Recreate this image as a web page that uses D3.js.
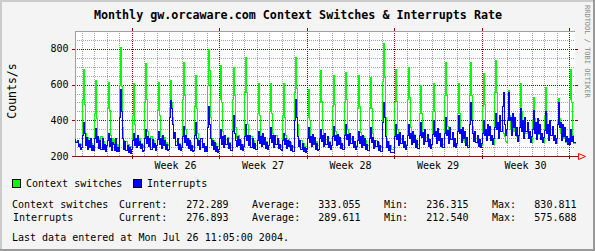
<!DOCTYPE html>
<html>
<head>
<meta charset="utf-8">
<script src="https://cdn.jsdelivr.net/npm/d3@7"></script>
<style>
  body { margin: 0; background: #f4f4f4; }
  text { font-family: "DejaVu Sans Mono", monospace; fill: #000; }
</style>
</head>
<body>
<svg id="chart" width="595" height="251"></svg>
<script>
// Context switches per second, 2 hour steps (Jun 16 12:00 .. Jul 26 10:00)
const contextSwitches = [
  298, 285, 290, 268, 275, 262,                                   // Jun 16 (from 12:00)
  270, 520, 690, 490, 330, 285, 305, 275, 290, 262, 275, 258,     // Jun 17
  262, 440, 625, 410, 300, 272, 295, 310, 268, 285, 256, 262,     // Jun 18
  258, 470, 615, 455, 320, 280, 300, 270, 295, 265, 270, 255,     // Jun 19
  265, 600, 812, 590, 360, 290, 270, 285, 258, 270, 250, 255,     // Jun 20
  255, 430, 607, 380, 300, 275, 305, 285, 300, 265, 275, 258,     // Jun 21
  260, 500, 720, 520, 340, 290, 275, 310, 280, 290, 262, 260,     // Jun 22
  262, 460, 615, 430, 310, 285, 310, 290, 305, 270, 280, 262,     // Jun 23
  265, 470, 625, 500, 420, 330, 300, 285, 295, 265, 272, 258,     // Jun 24
  260, 520, 728, 540, 350, 295, 280, 295, 268, 280, 258, 256,     // Jun 25
  258, 480, 655, 470, 330, 290, 275, 285, 262, 272, 252, 255,     // Jun 26
  255, 600, 797, 680, 420, 300, 280, 290, 265, 275, 255, 258,     // Jun 27
  258, 520, 710, 500, 340, 295, 310, 295, 305, 270, 280, 260,     // Jun 28
  262, 520, 700, 540, 360, 300, 290, 315, 285, 292, 265, 262,     // Jun 29
  265, 560, 756, 560, 380, 305, 290, 310, 282, 290, 265, 262,     // Jun 30
  262, 440, 607, 430, 320, 290, 310, 295, 305, 272, 282, 262,     // Jul 01
  260, 450, 607, 440, 330, 295, 300, 315, 285, 290, 262, 260,     // Jul 02
  258, 430, 607, 420, 315, 285, 275, 295, 270, 280, 256, 255,     // Jul 03
  256, 560, 756, 580, 380, 300, 280, 290, 265, 275, 252, 256,     // Jul 04
  255, 420, 573, 400, 310, 285, 305, 290, 300, 270, 282, 262,     // Jul 05
  262, 500, 680, 510, 350, 300, 315, 295, 305, 275, 285, 264,     // Jul 06
  264, 480, 655, 490, 340, 300, 290, 312, 285, 290, 265, 262,     // Jul 07
  262, 500, 672, 520, 350, 300, 310, 295, 305, 275, 285, 264,     // Jul 08
  262, 470, 655, 480, 335, 295, 292, 310, 285, 288, 262, 260,     // Jul 09
  260, 470, 645, 470, 330, 290, 275, 292, 270, 278, 254, 254,     // Jul 10
  255, 620, 831, 640, 420, 300, 275, 285, 258, 262, 240, 238,     // Jul 11
  240, 500, 690, 510, 350, 300, 315, 295, 310, 275, 285, 265,     // Jul 12
  265, 520, 700, 530, 360, 305, 300, 325, 290, 298, 270, 268,     // Jul 13
  268, 440, 598, 440, 330, 300, 320, 305, 315, 280, 290, 268,     // Jul 14
  266, 450, 607, 450, 335, 305, 300, 325, 295, 300, 270, 270,     // Jul 15
  270, 540, 725, 540, 370, 310, 315, 300, 310, 280, 290, 268,     // Jul 16
  266, 440, 607, 440, 330, 300, 290, 310, 280, 290, 260, 260,     // Jul 17
  262, 540, 725, 540, 370, 310, 290, 300, 275, 285, 258, 258,     // Jul 18
  260, 480, 663, 490, 350, 315, 330, 315, 335, 290, 300, 270,     // Jul 19
  270, 560, 738, 560, 380, 330, 350, 340, 370, 330, 310, 285,     // Jul 20
  280, 420, 570, 430, 350, 330, 360, 340, 375, 315, 310, 285,     // Jul 21
  282, 440, 607, 450, 350, 320, 355, 330, 365, 300, 305, 280,     // Jul 22
  280, 400, 532, 410, 340, 320, 345, 325, 355, 300, 300, 280,     // Jul 23
  278, 430, 588, 440, 345, 320, 340, 320, 350, 295, 295, 275,     // Jul 24
  272, 400, 523, 410, 330, 300, 320, 300, 330, 280, 285, 265,     // Jul 25
  268, 520, 685, 500, 320, 272                                    // Jul 26 (to 10:00)
];

// Interrupts per second, same steps
const interrupts = [
  300, 280, 292, 255, 270, 240,
  250, 320, 390, 330, 260, 305, 240, 290, 248, 300, 232, 262,
  235, 300, 357, 280, 310, 245, 290, 238, 300, 240, 270, 228,
  262, 290, 330, 255, 300, 236, 280, 270, 235, 300, 228, 250,
  228, 420, 578, 450, 300, 240, 285, 235, 260, 222, 250, 215,
  240, 290, 330, 260, 300, 250, 320, 262, 285, 245, 270, 230,
  232, 300, 350, 275, 310, 255, 300, 240, 295, 248, 275, 232,
  260, 295, 340, 270, 300, 245, 320, 260, 290, 240, 265, 235,
  238, 420, 515, 470, 380, 300, 335, 260, 300, 240, 270, 232,
  250, 310, 370, 280, 320, 262, 300, 245, 290, 236, 260, 230,
  232, 320, 390, 300, 260, 290, 240, 300, 250, 275, 230, 255,
  228, 360, 480, 380, 300, 260, 290, 240, 280, 230, 255, 222,
  240, 300, 350, 270, 310, 250, 320, 265, 300, 245, 275, 234,
  236, 340, 430, 330, 290, 255, 310, 260, 295, 242, 270, 236,
  255, 310, 380, 290, 320, 262, 315, 250, 300, 245, 275, 238,
  238, 290, 340, 275, 310, 255, 330, 270, 305, 246, 280, 240,
  260, 300, 360, 280, 315, 250, 320, 265, 300, 244, 270, 238,
  236, 290, 330, 265, 300, 245, 290, 255, 285, 232, 260, 228,
  230, 400, 520, 420, 310, 255, 290, 238, 275, 228, 250, 222,
  245, 300, 360, 280, 310, 255, 325, 265, 305, 240, 275, 236,
  238, 300, 350, 285, 320, 258, 330, 270, 310, 248, 280, 240,
  262, 310, 370, 290, 320, 260, 325, 268, 305, 245, 275, 238,
  240, 315, 380, 295, 325, 262, 330, 272, 310, 250, 285, 240,
  258, 290, 340, 275, 310, 250, 315, 262, 300, 242, 270, 236,
  236, 300, 360, 280, 305, 245, 290, 255, 285, 234, 262, 230,
  230, 390, 505, 420, 310, 250, 285, 232, 262, 224, 224, 224,
  224, 310, 380, 295, 325, 262, 335, 275, 315, 250, 285, 242,
  262, 315, 380, 300, 330, 265, 340, 280, 320, 252, 290, 244,
  244, 320, 390, 305, 335, 270, 350, 285, 325, 254, 295, 246,
  270, 325, 400, 310, 340, 272, 355, 290, 330, 256, 300, 248,
  248, 330, 420, 320, 345, 275, 360, 295, 335, 258, 300, 250,
  275, 340, 430, 330, 350, 280, 365, 300, 340, 262, 305, 252,
  252, 380, 500, 400, 330, 285, 340, 280, 320, 258, 295, 250,
  275, 330, 400, 320, 350, 290, 380, 320, 370, 290, 320, 270,
  300, 360, 440, 350, 390, 300, 430, 340, 480, 560, 380, 320,
  350, 400, 560, 400, 420, 320, 440, 360, 420, 320, 360, 285,
  320, 360, 470, 340, 400, 300, 420, 340, 390, 300, 340, 280,
  310, 350, 460, 330, 390, 295, 410, 330, 380, 295, 330, 278,
  305, 345, 450, 330, 380, 290, 400, 320, 370, 290, 320, 275,
  300, 380, 500, 360, 390, 290, 380, 310, 360, 285, 310, 270,
  300, 265, 350, 285, 310, 277
];

const yTicks = [200, 400, 600, 800];
const weekLabels = ["Week 26", "Week 27", "Week 28", "Week 29", "Week 30"];
const seriesNames = ["Context switches", "Interrupts"];
const seriesColors = ["#00ff00", "#0000ff"];
const statLabels = ["Current:", "Average:", "Min:", "Max:"];
const contextStats = [272.289, 333.055, 236.315, 830.811];
const interruptStats = [276.893, 289.611, 212.540, 575.688];

const startTime = new Date(2004, 5, 16, 11, 5);
const endTime = new Date(2004, 6, 26, 11, 5);
const firstBin = new Date(2004, 5, 16, 12, 0);
const step = 2 * 3600 * 1000;

const svg = d3.select("#chart");
const W = 595, H = 251;
const plotLeft = 75, plotRight = 575, plotTop = 31, plotBottom = 156;

// frame
svg.append("rect").attr("width", W).attr("height", H).attr("fill", "#f4f4f4");
svg.append("rect").attr("x", 0).attr("y", 0).attr("width", W).attr("height", 2).attr("fill", "#cccccc");
svg.append("rect").attr("x", 0).attr("y", 0).attr("width", 2).attr("height", H).attr("fill", "#cccccc");
svg.append("rect").attr("x", 0).attr("y", H - 2).attr("width", W).attr("height", 2).attr("fill", "#9a9a9a");
svg.append("rect").attr("x", W - 2).attr("y", 0).attr("width", 2).attr("height", H).attr("fill", "#9a9a9a");

// plot background
svg.append("rect")
  .attr("x", plotLeft).attr("y", plotTop)
  .attr("width", plotRight - plotLeft).attr("height", plotBottom - plotTop)
  .attr("fill", "#ffffff");

const x = d3.scaleTime().domain([startTime, endTime]).range([plotLeft, plotRight]);
const y = d3.scaleLinear().domain([200, 900]).range([plotBottom, plotTop]);
const px = v => Math.round(v) + 0.5;

const grid = svg.append("g").attr("shape-rendering", "crispEdges");

// minor horizontal grid every 50
d3.range(250, 900, 50).filter(v => !yTicks.includes(v)).forEach(v => {
  grid.append("line")
    .attr("x1", plotLeft).attr("x2", plotRight)
    .attr("y1", px(y(v))).attr("y2", px(y(v)))
    .attr("stroke", "#a0a0a0").attr("stroke-dasharray", "1,1");
});

// minor vertical grid at each day
const mondays = d3.timeMonday.range(startTime, endTime);
d3.timeDay.range(startTime, endTime)
  .filter(d => d.getDay() !== 1)
  .forEach(d => {
    grid.append("line")
      .attr("x1", px(x(d))).attr("x2", px(x(d)))
      .attr("y1", plotTop).attr("y2", plotBottom)
      .attr("stroke", "#a0a0a0").attr("stroke-dasharray", "1,1");
  });

// major horizontal grid
yTicks.forEach(v => {
  grid.append("line")
    .attr("x1", plotLeft).attr("x2", plotRight)
    .attr("y1", px(y(v))).attr("y2", px(y(v)))
    .attr("stroke", "#880000").attr("stroke-dasharray", "1,1");
  grid.append("line")
    .attr("x1", plotLeft - 3).attr("x2", plotLeft)
    .attr("y1", px(y(v))).attr("y2", px(y(v)))
    .attr("stroke", "#880000");
  grid.append("line")
    .attr("x1", plotRight).attr("x2", plotRight + 3)
    .attr("y1", px(y(v))).attr("y2", px(y(v)))
    .attr("stroke", "#880000");
});

// major vertical grid at each monday
mondays.forEach(d => {
  grid.append("line")
    .attr("x1", px(x(d))).attr("x2", px(x(d)))
    .attr("y1", plotTop).attr("y2", plotBottom)
    .attr("stroke", "#880000").attr("stroke-dasharray", "1,1");
  grid.append("line")
    .attr("x1", px(x(d))).attr("x2", px(x(d)))
    .attr("y1", plotTop - 3).attr("y2", plotTop)
    .attr("stroke", "#880000");
  grid.append("line")
    .attr("x1", px(x(d))).attr("x2", px(x(d)))
    .attr("y1", plotBottom).attr("y2", plotBottom + 3)
    .attr("stroke", "#880000");
});

// top and left edges
grid.append("line")
  .attr("x1", plotLeft).attr("x2", plotRight)
  .attr("y1", plotTop + 0.5).attr("y2", plotTop + 0.5)
  .attr("stroke", "#a0a0a0");
grid.append("line")
  .attr("x1", plotLeft + 0.5).attr("x2", plotLeft + 0.5)
  .attr("y1", plotTop).attr("y2", plotBottom)
  .attr("stroke", "#a0a0a0");

// data lines
function toPoints(values) {
  const pts = values.map((v, i) => ({ t: new Date(firstBin.getTime() + i * step), v: v }));
  pts.unshift({ t: startTime, v: values[0] });
  pts.push({ t: endTime, v: values[values.length - 1] });
  return pts;
}

const line = d3.line()
  .x(d => Math.round(x(d.t)) + 0.5)
  .y(d => Math.round(y(d.v)) + 0.5)
  .curve(d3.curveStepBefore);

[contextSwitches, interrupts].forEach((values, i) => {
  svg.append("path")
    .datum(toPoints(values))
    .attr("fill", "none")
    .attr("stroke", seriesColors[i])
    .attr("stroke-width", 1)
    .attr("shape-rendering", "crispEdges")
    .attr("d", line);
});

// x axis with arrow
svg.append("line")
  .attr("x1", plotLeft - 3).attr("x2", plotRight + 3)
  .attr("y1", plotBottom + 0.5).attr("y2", plotBottom + 0.5)
  .attr("stroke", "#aa0000").attr("shape-rendering", "crispEdges");
svg.append("path")
  .attr("d", `M${plotRight + 3.5},${plotBottom - 2.5} L${plotRight + 10.5},${plotBottom + 0.5} L${plotRight + 3.5},${plotBottom + 3.5} Z`)
  .attr("fill", "none").attr("stroke", "#ff0000");

// y tick labels
yTicks.forEach(v => {
  svg.append("text")
    .attr("x", 68.5).attr("y", y(v) + 3.5)
    .attr("text-anchor", "end")
    .style("font-size", "10px")
    .text(v);
});

// week labels
mondays.slice(0, weekLabels.length).forEach((d, i) => {
  const mid = (x(d) + x(mondays[i + 1] || endTime)) / 2;
  svg.append("text")
    .attr("x", mid).attr("y", 168.5)
    .attr("text-anchor", "middle")
    .style("font-size", "10px")
    .text(weekLabels[i]);
});

// title
svg.append("text")
  .attr("x", 298).attr("y", 19)
  .attr("text-anchor", "middle")
  .style("font-size", "11.7px")
  .style("font-weight", "bold")
  .text("Monthly gw.orcaware.com Context Switches & Interrupts Rate");

// y axis title
svg.append("text")
  .attr("transform", "translate(16,91) rotate(-90)")
  .attr("text-anchor", "middle")
  .style("font-size", "11.5px")
  .text("Counts/s");

// watermark
svg.append("text")
  .attr("transform", "translate(585,5) rotate(90)")
  .style("font-size", "7px")
  .style("fill", "#888888")
  .text("RRDTOOL / TOBI OETIKER");

// legend
const legendX = [12, 133];
seriesNames.forEach((name, i) => {
  svg.append("rect")
    .attr("x", legendX[i] + 0.5).attr("y", 179.5)
    .attr("width", 8).attr("height", 8)
    .attr("fill", seriesColors[i]).attr("stroke", "#000");
  svg.append("text")
    .attr("x", legendX[i] + 14).attr("y", 187)
    .style("font-size", "10px")
    .text(name);
});

// stats
const fmt = d3.format(".3f");
const labelX = [119, 252, 384, 492];
const valueX = [228.5, 360.5, 468.5, 576.5];
[[contextStats, 207.5, 12], [interruptStats, 220.5, 13]].forEach(([stats, yy, nx], r) => {
  svg.append("text").attr("x", nx).attr("y", yy).style("font-size", "10px").text(seriesNames[r]);
  statLabels.forEach((lab, j) => {
    svg.append("text").attr("x", labelX[j]).attr("y", yy).style("font-size", "10px").text(lab);
    svg.append("text").attr("x", valueX[j]).attr("y", yy)
      .attr("text-anchor", "end").style("font-size", "10px").text(fmt(stats[j]));
  });
});

svg.append("text")
  .attr("x", 12).attr("y", 240.5)
  .style("font-size", "10px")
  .text("Last data entered at Mon Jul 26 11:05:00 2004.");
</script>
</body>
</html>
